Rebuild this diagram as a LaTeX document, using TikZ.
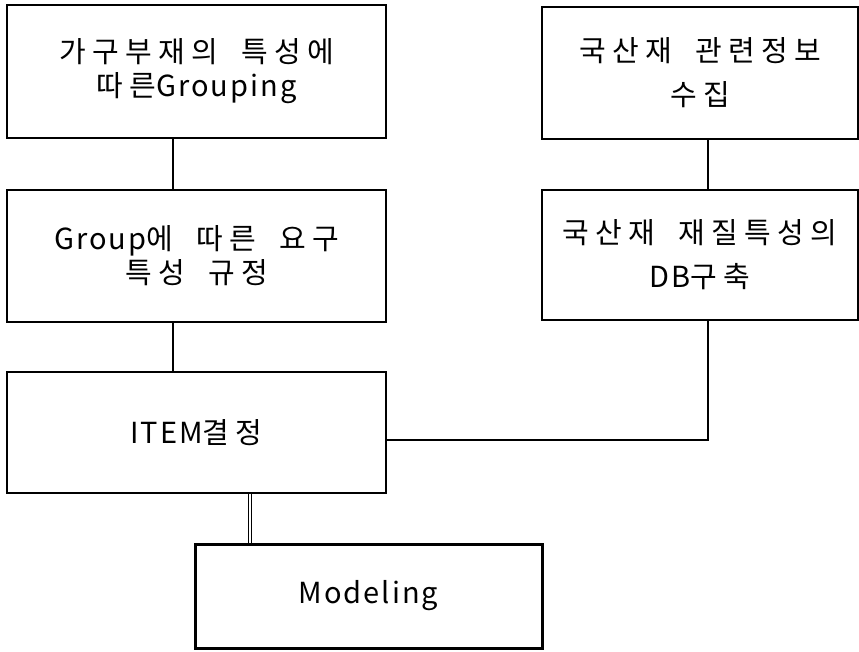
\documentclass[tikz,border=0pt]{standalone}
\usepackage{fontspec}
\usepackage{tikz}
\usetikzlibrary{calc}
\newfontfamily\kr{Noto Sans CJK KR}[LetterSpace=22,WordSpace=1.8]
\newfontfamily\krlat{Noto Sans CJK KR}[LetterSpace=7,WordSpace=1.8]
\tikzset{
  stepbox/.style={draw=black, line width=1.3pt, align=center, inner sep=0pt,
    font=\kr\fontsize{29}{34}\selectfont},
  widebox/.style={stepbox, font=\kr\fontsize{29}{44}\selectfont},
  linkline/.style={black, line width=1.3pt},
}

\begin{document}
\begin{tikzpicture} [x=1pt, y=-1pt]
\useasboundingbox (0,0) rectangle (859,651);
% left column
\node[stepbox, minimum width=379pt, minimum height=133pt] (grouping) at (196.5,71.5) {가구부재의 특성에\\따른{\krlat Grouping}};
\node[stepbox, minimum width=379pt, minimum height=132pt] (groupreq) at (196.5,256) {{\krlat Group}에 따른 요구\\특성 규정};
\node[stepbox, minimum width=379pt, minimum height=121pt] (item) at (196.5,432.5) {{\krlat ITEM}결정};
% right column
\node[widebox, minimum width=316pt, minimum height=132pt] (woodinfo) at (700,73) {국산재 관련정보\\수집};
\node[widebox, minimum width=316pt, minimum height=130pt] (dbbuild) at (700,255) {국산재 재질특성의\\{\krlat DB}구축};
% result
\node[stepbox, line width=3pt, minimum width=347pt, minimum height=104pt] (modeling) at (368.5,596) {\krlat Modeling};

\draw[linkline] ([xshift=-23.5pt]grouping.south) -- ([xshift=-23.5pt]groupreq.north);
\draw[linkline] ([xshift=-23.5pt]groupreq.south) -- ([xshift=-23.5pt]item.north);
\draw[linkline] ([xshift=8pt]woodinfo.south) -- ([xshift=8pt]dbbuild.north);
\draw[linkline] ([xshift=8pt]dbbuild.south) |- ([yshift=-7.5pt]item.east);
\draw[black, line width=0.8pt, double, double distance=1.6pt] ([xshift=53.5pt]item.south) -- ([xshift=53.5pt]item.south |- modeling.north);
\end{tikzpicture}
\end{document}
